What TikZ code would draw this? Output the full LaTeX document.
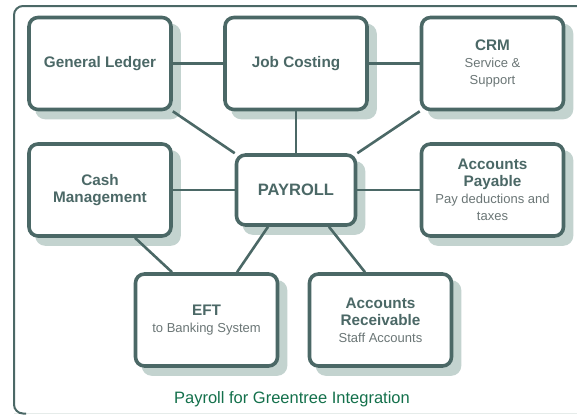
\documentclass[tikz,border=0pt]{standalone}
\usepackage{fontspec}
\setmainfont{Liberation Sans}
\definecolor{slate}{HTML}{4B6866}
\definecolor{shade}{HTML}{C3D3CF}
\definecolor{faintline}{HTML}{E6ECEA}
\definecolor{subgray}{HTML}{6B7676}
\definecolor{titlegreen}{HTML}{13704B}
\pgfdeclarelayer{shadowlayer}
\pgfdeclarelayer{edgelayer}
\pgfsetlayers{shadowlayer,edgelayer,main}
\tikzset{
  modbox/.style={draw=slate, line width=3.6pt, fill=white, rounded corners=9pt,
    minimum width=142pt, minimum height=92pt, align=center, inner sep=2pt,
    font=\fontsize{15.3}{17}\selectfont\bfseries, text=slate},
  hubbox/.style={modbox, minimum width=119pt, minimum height=70pt,
    font=\fontsize{16.5}{18}\selectfont\bfseries},
  link/.style={draw=slate, line width=2.6pt},
  boxshadow/.style={fill=shade, rounded corners=10pt},
  frame/.style={draw=slate, line width=2pt, rounded corners=9pt}
}
\newcommand{\subtxt}[1]{{\fontsize{13}{16.5}\selectfont\mdseries\color{subgray}#1}}
\begin{document}
\begin{tikzpicture}[x=1pt,y=-1pt]
  \useasboundingbox (0,0) rectangle (577,415);
  % outer frame, running off the right edge, with a faint bottom rule
  \begin{scope}
    \clip (0,0) rectangle (577,415);
    \coordinate (fbl) at (14,413.5);
    \coordinate (ftl) at (14,6);
    \coordinate (ftr) at (600,6);
    \coordinate (fbr) at (577,413.5);
    \draw[faintline, line width=1.5pt] (fbl) -- (fbr);
    \draw[frame] ([xshift=12]fbl) -- (fbl) -- (ftl) -- (ftr);
  \end{scope}

  % modules
  \node[modbox] (gl)   at (100,63.5)   {General Ledger};
  \node[modbox] (jc)   at (296,63.5)   {Job Costing};
  \node[modbox] (crm)  at (492.5,63.5) {CRM\\\subtxt{Service \&}\\\subtxt{Support}};
  \node[modbox] (cash) at (100,190)    {Cash\\Management};
  \node[hubbox] (pay)  at (296,190)    {PAYROLL};
  \node[modbox] (ap)   at (492.5,190)  {Accounts\\Payable\\\subtxt{Pay deductions and}\\\subtxt{taxes}};
  \node[modbox] (eft)  at (206.5,320)  {EFT\\\subtxt{to Banking System}};
  \node[modbox] (ar)   at (380.5,320)  {Accounts\\Receivable\\\subtxt{Staff Accounts}};

  % drop shadows
  \begin{pgfonlayer}{shadowlayer}
    \foreach \n in {gl,jc,crm,cash,pay,ap,eft,ar}
      \fill[boxshadow] ([shift={(8,8)}]\n.south west) rectangle ([shift={(8,8)}]\n.north east);
  \end{pgfonlayer}

  % connections
  \begin{pgfonlayer}{edgelayer}
    \draw[link] (gl) -- (jc);
    \draw[link] (jc) -- (crm);
    \draw[link] (jc) -- (pay);
    \draw[link] (gl.south east) -- (pay.north west);
    \draw[link] (crm.south west) -- (pay.north east);
    \draw[link] (cash) -- (pay);
    \draw[link] (pay) -- (ap);
    \draw[link] ([xshift=35]cash.south) -- ([xshift=-34.5]eft.north);
    \draw[link] ([xshift=-28]pay.south) -- ([xshift=30.5]eft.north);
    \draw[link] ([xshift=33]pay.south) -- ([xshift=-15.5]ar.north);
  \end{pgfonlayer}

  \node[text=titlegreen, font=\fontsize{16.5}{18}\selectfont] (title) at (292,399) {Payroll for Greentree Integration};
\end{tikzpicture}
\end{document}
